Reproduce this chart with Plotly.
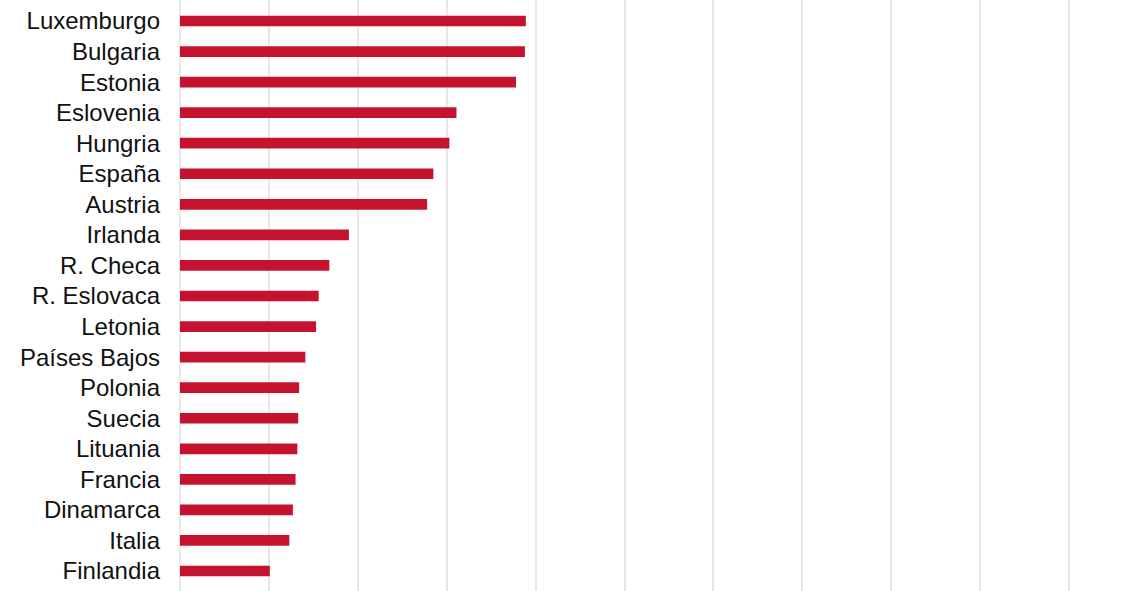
import plotly.graph_objects as go

countries = ["Luxemburgo", "Bulgaria", "Estonia", "Eslovenia", "Hungria", "España",
             "Austria", "Irlanda", "R. Checa", "R. Eslovaca", "Letonia", "Países Bajos",
             "Polonia", "Suecia", "Lituania", "Francia", "Dinamarca", "Italia", "Finlandia"]
values = [3.89, 3.88, 3.78, 3.11, 3.03, 2.85, 2.78, 1.90, 1.68, 1.56, 1.53, 1.41,
          1.34, 1.33, 1.32, 1.30, 1.27, 1.23, 1.01]

# bottom-to-top order for plotly category axis
cats = countries[::-1]
vals = values[::-1]

fig = go.Figure(go.Bar(
    x=vals, y=cats, orientation="h",
    marker=dict(color="#c4122f", line=dict(width=0)),
    width=0.35,
    hoverinfo="x+y",
))

fig.update_layout(
    width=1128, height=591,
    margin=dict(l=180, r=0, t=0, b=0),
    paper_bgcolor="white", plot_bgcolor="white",
    showlegend=False,
    font=dict(family="Liberation Sans, Arial, sans-serif", color="#1a1a1a"),
)
fig.update_xaxes(
    range=[0, 948 / 88.9], dtick=1, tick0=0,
    showgrid=True, gridcolor="#e8e8e8", gridwidth=1.5,
    zeroline=True, zerolinecolor="#e8e8e8", zerolinewidth=1.5,
    showticklabels=False, showline=False, fixedrange=True,
)
fig.update_yaxes(
    type="category", categoryorder="array", categoryarray=cats,
    range=[-0.654, 18.687],
    showgrid=False, zeroline=False, showline=False,
    tickfont=dict(size=24, color="#111111"),
    ticklabelstandoff=19, fixedrange=True,
)

fig.write_html(
    "out.html",
    config={"displayModeBar": False},
    post_script="document.body.style.margin='0';document.body.style.overflow='hidden';",
)
